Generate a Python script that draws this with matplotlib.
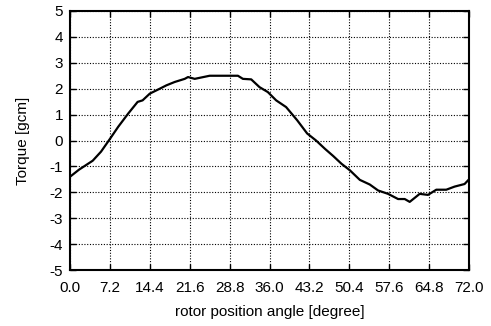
import matplotlib
matplotlib.use("Agg")
import matplotlib.pyplot as plt

angle = [0.0, 1.6, 4.1, 5.6, 7.2, 8.7, 10.5, 12.2, 13.1, 14.4, 16.2, 17.4, 18.9, 20.7,
         21.3, 22.5, 25.2, 30.3, 31.2, 32.7, 34.2, 35.7, 37.2, 39.0, 41.0, 42.8,
         44.4, 46.0, 47.5, 49.0, 50.5, 52.3, 54.1, 55.6, 57.4, 59.2, 60.4, 61.3,
         63.1, 64.6, 66.1, 67.9, 69.4, 71.2, 72.0]
torque = [-1.40, -1.13, -0.78, -0.43, 0.06, 0.53, 1.04, 1.49, 1.55, 1.81, 2.00, 2.13, 2.26, 2.38,
          2.45, 2.38, 2.50, 2.50, 2.38, 2.36, 2.06, 1.87, 1.55, 1.29, 0.78, 0.27,
          0.00, -0.32, -0.60, -0.90, -1.15, -1.52, -1.70, -1.93, -2.06, -2.26, -2.26, -2.37,
          -2.06, -2.10, -1.90, -1.90, -1.78, -1.68, -1.50]
xticks = [0.0, 7.2, 14.4, 21.6, 28.8, 36.0, 43.2, 50.4, 57.6, 64.8, 72.0]
yticks = [-5, -4, -3, -2, -1, 0, 1, 2, 3, 4, 5]

plt.rcParams['font.family'] = ['Liberation Sans', 'DejaVu Sans']
fig = plt.figure(figsize=(4.91, 3.26), dpi=100)
ax = fig.add_axes([70/491, 1-270/326, 399/491, 259/326])
ax.plot(angle, torque, color='black', lw=1.6)
ax.set_xlim(0, 72)
ax.set_ylim(-5, 5)
ax.set_xticks(xticks)
ax.set_xticklabels([f"{v:.1f}" for v in xticks])
ax.set_yticks(yticks)
ax.set_yticklabels([str(v) for v in yticks])
ax.grid(True, color='black', linestyle=(0, (1, 1.5)), lw=0.8)
ax.tick_params(direction='in', top=True, right=True, labelsize=11, length=4, width=1, pad=5)
ax.tick_params(axis='x', pad=8)
for s in ax.spines.values():
    s.set_linewidth(1.5)
ax.set_xlabel('rotor position angle [degree]', fontsize=11, labelpad=7)
ax.set_ylabel('Torque [gcm]', fontsize=11, labelpad=14)
fig.savefig('out.png', dpi=100)
